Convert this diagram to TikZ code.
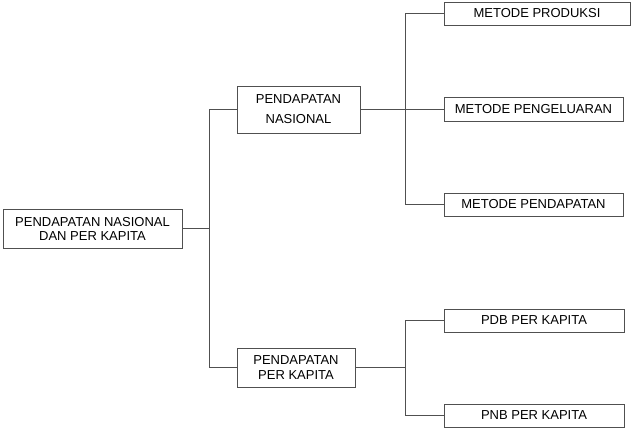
\documentclass[tikz,border=0pt]{standalone}
\usepackage{fontspec}
\setmainfont{Liberation Sans}
\definecolor{edge}{RGB}{80,80,80}
\begin{document}
\begin{tikzpicture}[x=1pt,y=-1pt,
  box/.style={draw=edge,line width=0.9pt,fill=white,inner sep=0pt,align=center,
    font=\fontsize{13}{14}\selectfont},
  link/.style={draw=edge,line width=0.9pt}]
\fill[white] (0,0) rectangle (641,430);
\useasboundingbox (0,0) rectangle (641,430);
\node[box,minimum width=179pt,minimum height=39pt] (root) at (92.5,228.5) {PENDAPATAN NASIONAL\\DAN PER KAPITA};
\node[box,minimum width=123pt,minimum height=47pt] (nas) at (298.5,109.5) {PENDAPATAN\\[6pt]NASIONAL};
\node[box,minimum width=118pt,minimum height=39pt] (kap) at (296,367.5) {PENDAPATAN\\[1pt]PER KAPITA};
\node[box,minimum width=186pt,minimum height=23pt] (m1) at (537,13.5) {METODE PRODUKSI};
\node[box,minimum width=179pt,minimum height=24pt] (m2) at (533.5,109.5) {METODE PENGELUARAN};
\node[box,minimum width=179pt,minimum height=23pt] (m3) at (533.5,204.5) {METODE PENDAPATAN};
\node[box,minimum width=180pt,minimum height=23pt] (p1) at (534,320.5) {PDB PER KAPITA};
\node[box,minimum width=180pt,minimum height=23pt] (p2) at (534,415.5) {PNB PER KAPITA};
\coordinate (j1) at (209,228.5);
\coordinate (j2) at (405.5,109.5);
\coordinate (j3) at (405.5,367.5);
\draw[link] (root.east) -- (root.east -| j1);
\draw[link] (nas.west) -| (j1 |- nas.west) |- (kap.west);
\draw[link] (nas.east) -- (nas.east -| j2);
\draw[link] (m1.west) -| (j2 |- m1.west) |- (m3.west);
\draw[link] (j2) -- (m2.west);
\draw[link] (kap.east) -- (kap.east -| j3);
\draw[link] (p1.west) -| (j3 |- p1.west) |- (p2.west);
\end{tikzpicture}
\end{document}
